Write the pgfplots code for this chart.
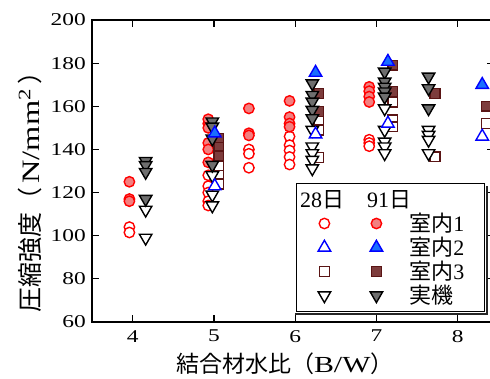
\documentclass[border=0pt]{standalone}
\usepackage{fontspec}
\setmainfont{Liberation Serif}
\newfontfamily\wide{Liberation Serif}[FakeStretch=1.3]
\newfontfamily\cjk{Noto Sans CJK JP}
\usepackage{pgfplots}
\pgfplotsset{compat=1.18}
\definecolor{lred}{RGB}{242,128,128}
\definecolor{fblue}{RGB}{25,110,255}
\definecolor{sqedge}{RGB}{90,20,20}
\definecolor{sqfill}{RGB}{125,60,60}
\definecolor{tgray}{RGB}{110,110,110}
\begin{document}
\begin{tikzpicture}
\useasboundingbox (-92pt,-56pt) rectangle (398pt,322pt);
\clip (-92pt,-56pt) rectangle (398pt,322pt);
\begin{axis}[
 at={(0,0)}, anchor=south west, scale only axis, width=401.6pt, height=302pt,
 xmin=3.5, xmax=8.44, ymin=60, ymax=200,
 xtick={4,5,6,7,8}, ytick={60,80,...,200},
 axis line style={line width=2.4pt},
 major tick length=7pt,
 every tick/.style={black, line width=1.2pt},
 /pgf/number format/assume math mode=true,
 ticklabel style={font=\wide\fontsize{18}{20}\selectfont},
 xticklabel style={anchor=north, inner sep=0pt, yshift=-8pt},
 yticklabel style={anchor=east, inner sep=0pt, xshift=-6pt},
 every axis x label/.style={at={(rel axis cs:0.48,0)}, anchor=center, yshift=-42pt, font=\fontsize{23}{25}\selectfont},
 every axis y label/.style={at={(rel axis cs:0,0.45)}, rotate=90, anchor=center, yshift=62pt, font=\fontsize{25}{27}\selectfont},
 xlabel={{\cjk 結合材水比（}{\wide B/W}{\cjk ）}},
 ylabel={{\cjk 圧縮強度（}\,{\wide N/mm\textsuperscript{2}}\,{\cjk ）}},
 legend columns=2,
 legend cell align=left,
 legend style={at={(rel axis cs:0.9786,0.033)}, anchor=south east, draw=black, line width=1.2pt, fill=white,
   inner xsep=20pt, inner ysep=6pt, row sep=4pt, column sep=0pt,
   nodes={inner sep=0pt, anchor=west, font=\fontsize{22}{24}\selectfont},
   /tikz/column 1/.style={column sep=17pt},
   /tikz/column 2/.style={column sep=18pt},
   /tikz/column 3/.style={column sep=25pt}},
 legend image code/.code={\path[draw=none, fill=none] (-8pt,-6pt) rectangle (8pt,6pt); \draw[#1] plot coordinates {(0pt,0pt)};},
 c28/.style={only marks, mark=*, mark size=5.2pt, mark options={draw=red, fill=white, line width=1.4pt}},
 c91/.style={only marks, mark=*, mark size=5.2pt, mark options={draw=red, fill=lred, line width=1.4pt}},
 t28/.style={only marks, mark=triangle*, mark size=7.2pt, mark options={draw=blue, fill=white, line width=1.4pt}},
 t91/.style={only marks, mark=triangle*, mark size=7.2pt, mark options={draw=blue, fill=fblue, line width=1.4pt}},
 s28/.style={only marks, mark=square*, mark size=4.9pt, mark options={draw=sqedge, fill=white, line width=1.4pt}},
 s91/.style={only marks, mark=square*, mark size=4.9pt, mark options={draw=sqedge, fill=sqfill, line width=1.4pt}},
 d28/.style={only marks, mark=triangle*, mark size=7.2pt, mark options={draw=black, fill=white, line width=1.4pt, rotate=180}},
 d91/.style={only marks, mark=triangle*, mark size=7.2pt, mark options={draw=black, fill=tgray, line width=1.4pt, rotate=180}},
]
% 室内1 28日
\addplot[c28, forget plot] coordinates {(3.96,104) (3.96,101.5)
 (4.93,152) (4.93,128) (4.93,123) (4.93,120) (4.93,116) (4.93,114)
 (5.43,140) (5.43,138) (5.43,131.5)
 (5.93,146) (5.93,142) (5.93,139.5) (5.93,136.5) (5.93,133)
 (6.91,144.5) (6.91,143) (6.91,141.5)};
% 室内1 91日
\addplot[c91, forget plot] coordinates {(3.96,125) (3.96,117) (3.96,116)
 (4.93,154) (4.93,150) (4.93,143) (4.93,140) (4.93,134)
 (5.43,159) (5.43,147.5) (5.43,146.5)
 (5.93,162.5) (5.93,155) (5.93,152) (5.93,150.5)
 (6.91,169) (6.91,167) (6.91,164.5) (6.91,162)};
% 室内3 28日
\addplot[s28, forget plot] coordinates {(5.06,132.5) (5.06,128) (5.06,124)
 (6.29,153) (6.29,149) (6.29,136.3)
 (7.20,162) (7.20,153.6) (7.20,150.5)
 (7.72,136.6) (8.35,152)};
% 室内3 91日
\addplot[s91, forget plot] coordinates {(5.06,145) (5.06,141) (5.06,137)
 (6.29,166) (6.29,157.5)
 (7.20,179) (7.20,166.8)
 (7.72,166) (8.35,160)};
% 実機 28日
\addplot[d28, forget plot] coordinates {(4.16,112) (4.16,99)
 (4.98,128) (4.98,119) (4.98,114)
 (6.21,149) (6.21,141.3) (6.21,138.2) (6.21,135.1) (6.21,131.2)
 (7.10,159) (7.10,149) (7.10,143.6) (7.10,141.3) (7.10,138.2)
 (7.64,149) (7.64,146.7) (7.64,144.4) (7.64,138.2)};
% 実機 91日
\addplot[d91, forget plot] coordinates {(4.16,134.6) (4.16,132.7) (4.16,129.5) (4.16,117)
 (4.98,152.9) (4.98,150.5) (4.98,145) (4.98,132.8)
 (6.21,170.6) (6.21,165.2) (6.21,162.1) (6.21,158.3) (6.21,154.4)
 (7.10,176) (7.10,171.4) (7.10,169) (7.10,166.8) (7.10,164.4)
 (7.64,173.7) (7.64,168.3) (7.64,159)};
% 室内2 28日
\addplot[t28, forget plot] coordinates {(5.01,123) (6.25,147) (7.14,152) (8.30,146)};
% 室内2 91日
\addplot[t91, forget plot] coordinates {(5.01,147.5) (6.25,175.6) (7.14,180.7) (8.30,170)};

\addlegendimage{legend image code/.code={\path[draw=none, fill=none] (-8pt,-10pt) rectangle (8pt,10pt); \node[overlay, draw=none, anchor=west, inner sep=0pt, font=\fontsize{22}{24}\selectfont] at (-25pt,0pt) {28{\cjk 日}};}}
\addlegendentry{}
\addlegendimage{legend image code/.code={\path[draw=none, fill=none] (-8pt,-10pt) rectangle (8pt,10pt); \node[overlay, draw=none, anchor=west, inner sep=0pt, font=\fontsize{22}{24}\selectfont] at (-10pt,0pt) {91{\cjk 日}};}}
\addlegendentry{}
\addlegendimage{mark=*, mark size=5.2pt, mark options={draw=red, fill=white, line width=1.4pt}}
\addlegendentry{}
\addlegendimage{mark=*, mark size=5.2pt, mark options={draw=red, fill=lred, line width=1.4pt}}
\addlegendentry{{\cjk 室内}1}
\addlegendimage{mark=triangle*, mark size=7.2pt, mark options={draw=blue, fill=white, line width=1.4pt}}
\addlegendentry{}
\addlegendimage{mark=triangle*, mark size=7.2pt, mark options={draw=blue, fill=fblue, line width=1.4pt}}
\addlegendentry{{\cjk 室内}2}
\addlegendimage{mark=square*, mark size=4.9pt, mark options={draw=sqedge, fill=white, line width=1.4pt}}
\addlegendentry{}
\addlegendimage{mark=square*, mark size=4.9pt, mark options={draw=sqedge, fill=sqfill, line width=1.4pt}}
\addlegendentry{{\cjk 室内}3}
\addlegendimage{mark=triangle*, mark size=7.2pt, mark options={draw=black, fill=white, line width=1.4pt, rotate=180}}
\addlegendentry{}
\addlegendimage{mark=triangle*, mark size=7.2pt, mark options={draw=black, fill=tgray, line width=1.4pt, rotate=180}}
\addlegendentry{{\cjk 実機}}
\end{axis}
% legend shadow strips (outside the legend box)
\fill[black!85] (203pt,7.2pt) rectangle (395.8pt,9.4pt);
\fill[black!85] (393.6pt,7.2pt) rectangle (395.8pt,136pt);
\end{tikzpicture}
\end{document}
